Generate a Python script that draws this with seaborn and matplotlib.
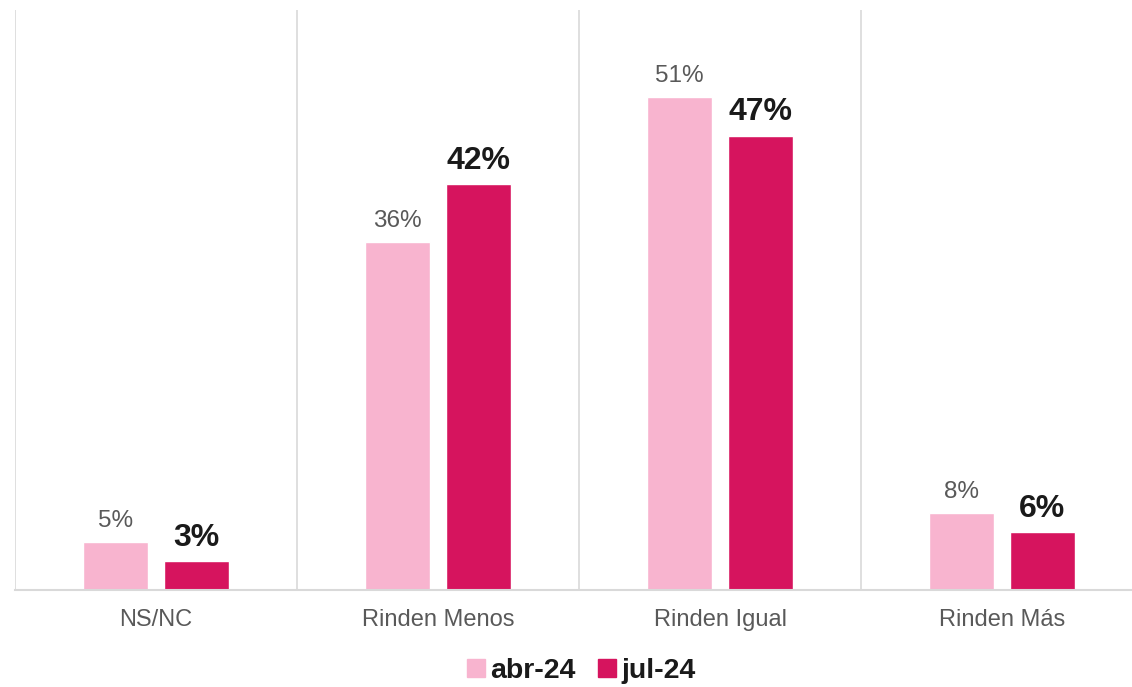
import pandas as pd
import matplotlib
matplotlib.use('Agg')
import matplotlib.pyplot as plt
import seaborn as sns
from matplotlib.lines import Line2D

# Datos
categorias = ['NS/NC', 'Rinden Menos', 'Rinden Igual', 'Rinden Más']
abr_24 = [5, 36, 51, 8]
jul_24 = [3, 42, 47, 6]
periodos = ['abr-24', 'jul-24']
colores = ['#F8B4CF', '#D6145E']

df = pd.DataFrame({
    'categoria': categorias * 2,
    'valor': abr_24 + jul_24,
    'periodo': [periodos[0]] * len(categorias) + [periodos[1]] * len(categorias),
})

sns.set_style('white')
plt.rcParams['font.family'] = ['Liberation Sans', 'DejaVu Sans']

fig = plt.figure(figsize=(11.32, 6.87), dpi=100)
ax = fig.add_axes([15 / 1132, 97 / 687, 1128 / 1132, 580 / 687])

sns.barplot(data=df, x='categoria', y='valor', hue='periodo', palette=colores,
            saturation=1, width=0.572, gap=0.2, legend=False, ax=ax)

ax.set_xlim(-0.5, 3.5)
ax.set_ylim(0, 60)

# Líneas separadoras
for x in [-0.5, 0.5, 1.5, 2.5, 3.5]:
    ax.axvline(x, color='#D9D9D9', lw=1.2, zorder=0)

# Etiquetas de valores
ax.bar_label(ax.containers[0], labels=[f'{v}%' for v in abr_24], padding=7,
             fontsize=17.5, color='#595959')
ax.bar_label(ax.containers[1], labels=[f'{v}%' for v in jul_24], padding=6,
             fontsize=23, fontweight='bold', color='#1A1A1A')

for s in ['top', 'right', 'left']:
    ax.spines[s].set_visible(False)
ax.spines['bottom'].set_color('#D9D9D9')
ax.spines['bottom'].set_linewidth(1.5)
ax.set_yticks([])
ax.set_xlabel('')
ax.set_ylabel('')
ax.tick_params(axis='x', length=0, pad=14, labelsize=17, labelcolor='#595959')

handles = [Line2D([], [], marker='s', linestyle='', markersize=13, color=c) for c in colores]
fig.legend(handles, periodos, loc='center', bbox_to_anchor=(0.513, 0.024), ncol=2,
           frameon=False, prop={'size': 20.5, 'weight': 'bold'}, handletextpad=0.15,
           columnspacing=0.75, handlelength=0.7, labelcolor='#1A1A1A',
           borderpad=0.1)

fig.savefig('out.png', dpi=100)
